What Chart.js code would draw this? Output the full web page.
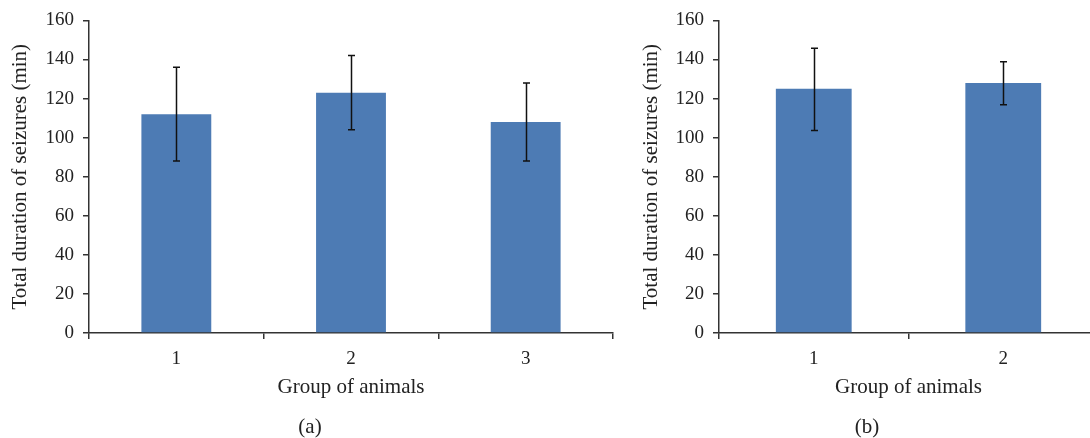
<!DOCTYPE html>
<html>
<head>
<meta charset="utf-8">
<script src="https://cdn.jsdelivr.net/npm/chart.js@4"></script>
<style>
  html, body { margin:0; padding:0; width:1090px; height:438px; overflow:hidden; background:#fff; }
  .wrap { position:absolute; top:0; height:438px; }
  .cap { position:absolute; font-family:"Liberation Serif", serif; font-size:21px; color:#222; transform:translate(-50%,-50%); white-space:nowrap; }
</style>
</head>
<body>
<div class="wrap" style="left:0;width:620px;"><canvas id="ca" width="620" height="438"></canvas></div>
<div class="wrap" style="left:630px;width:470px;"><canvas id="cb" width="470" height="438"></canvas></div>
<div class="cap" style="left:310px;top:426px;">(a)</div>
<div class="cap" style="left:867px;top:426px;">(b)</div>
<script>
// ---- data ----
const groupsA = ['1', '2', '3'];
const meanA = [112, 123, 108];
const errLowA = [88, 104, 88];
const errHighA = [136, 142, 128];

const groupsB = ['1', '2'];
const meanB = [125, 128];
const errLowB = [103.7, 116.8];
const errHighB = [145.7, 138.8];

const yTicks = [0, 20, 40, 60, 80, 100, 120, 140, 160];
const xTitle = 'Group of animals';
const yTitle = 'Total duration of seizures (min)';

const FONT = '"Liberation Serif", serif';
const AXIS = '#333';
const BAR = '#4d7bb4';

const errorBars = {
  id: 'errorBars',
  afterDatasetsDraw(chart, args, opts) {
    const ctx = chart.ctx;
    const meta = chart.getDatasetMeta(0);
    const ys = chart.scales.y;
    ctx.save();
    ctx.strokeStyle = '#111';
    ctx.lineWidth = 1.5;
    meta.data.forEach((el, i) => {
      const x = Math.round(el.x) + 0.5;
      const yt = ys.getPixelForValue(opts.high[i]);
      const yb = ys.getPixelForValue(opts.low[i]);
      ctx.beginPath();
      ctx.moveTo(x, yt); ctx.lineTo(x, yb);
      ctx.moveTo(x - 3.5, yt); ctx.lineTo(x + 3.5, yt);
      ctx.moveTo(x - 3.5, yb); ctx.lineTo(x + 3.5, yb);
      ctx.stroke();
    });
    ctx.restore();
  }
};

function makeChart(id, labels, values, low, high, yAxisWidth, titlePad, padRight) {
  return new Chart(document.getElementById(id), {
    type: 'bar',
    data: {
      labels: labels,
      datasets: [{ data: values, backgroundColor: BAR, borderWidth: 0,
        categoryPercentage: 1.0, barPercentage: 0.4 }]
    },
    options: {
      responsive: false,
      animation: false,
      layout: { padding: { top: 19, right: padRight, left: 0, bottom: 0 } },
      plugins: { legend: { display: false }, tooltip: { enabled: false },
        errorBars: { low: low, high: high } },
      scales: {
        x: {
          grid: { display: true, drawOnChartArea: false, drawTicks: true, tickLength: 6,
                  offset: true, color: AXIS, lineWidth: 1.5 },
          border: { display: true, color: AXIS, width: 1.5 },
          ticks: { color: '#222', font: { family: FONT, size: 19 }, padding: 9 },
          title: { display: true, text: xTitle, color: '#222', font: { family: FONT, size: 21 },
                   padding: { top: 0, bottom: 38 } },
          afterFit(s) { s.height = 438 - 333; }
        },
        y: {
          min: 0, max: 160,
          afterBuildTicks(s) { s.ticks = yTicks.map(v => ({ value: v })); },
          grid: { display: true, drawOnChartArea: false, drawTicks: true, tickLength: 6,
                  color: AXIS, lineWidth: 1.5 },
          border: { display: true, color: AXIS, width: 1.5 },
          ticks: { color: '#222', font: { family: FONT, size: 19 }, padding: 9 },
          title: { display: true, text: yTitle, color: '#222', font: { family: FONT, size: 21 },
                   padding: { top: titlePad, bottom: 0 } },
          afterFit(s) { s.width = yAxisWidth; }
        }
      }
    },
    plugins: [errorBars]
  });
}

makeChart('ca', groupsA, meanA, errLowA, errHighA, 89, 8, 7);
makeChart('cb', groupsB, meanB, errLowB, errHighB, 89, 9, 2);
</script>
</body>
</html>
